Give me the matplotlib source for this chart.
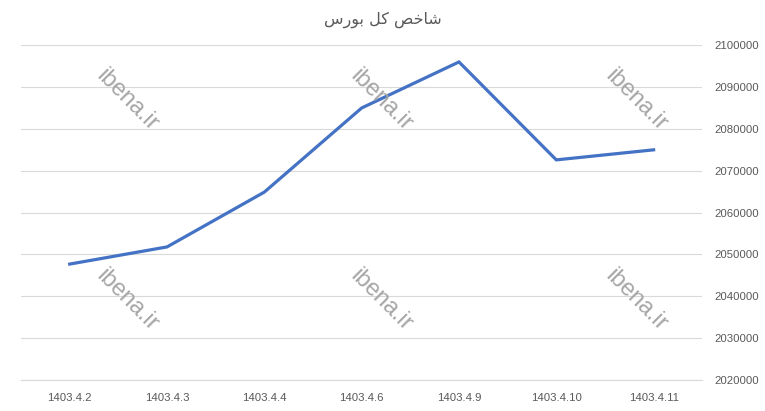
import matplotlib
matplotlib.use("Agg")
import matplotlib.pyplot as plt

categories = ["1403.4.2", "1403.4.3", "1403.4.4", "1403.4.6", "1403.4.9", "1403.4.10", "1403.4.11"]
values = [2047700, 2051800, 2064900, 2085000, 2096000, 2072600, 2075000]
yticks = [2020000, 2030000, 2040000, 2050000, 2060000, 2070000, 2080000, 2090000, 2100000]
# "شاخص کل بورس" shaped into presentation forms, visual order
title_text = "\uFEB1\uFEAD\uFEEE\uFE91 \uFEDE\uFB90 \uFEBA\uFEA7\uFE8E\uFEB7"
watermark = "ibena.ir"

fig = plt.figure(figsize=(7.65, 4.11), dpi=100)
ax = fig.add_axes([0.0275, 0.0754, 0.918 - 0.0275, 0.890 - 0.0754])

x = list(range(len(categories)))
ax.plot(x, values, color="#4472C4", linewidth=2.3, zorder=3, solid_joinstyle="miter")

ax.set_xlim(-0.5, len(categories) - 0.5)
ax.set_ylim(2020000, 2100000)
ax.set_yticks(yticks)
ax.set_yticklabels([str(v) for v in yticks])
ax.set_xticks(x)
ax.set_xticklabels(categories)
ax.yaxis.tick_right()
ax.tick_params(axis="both", length=0, labelsize=8.2, labelcolor="#595959",
               labelfontfamily="Liberation Sans")
ax.tick_params(axis="y", pad=9)
ax.tick_params(axis="x", pad=9)
ax.grid(axis="y", color="#d9d9d9", linewidth=0.8, zorder=0)
for s in ["top", "left", "right"]:
    ax.spines[s].set_visible(False)
ax.spines["bottom"].set_color("#d9d9d9")
ax.spines["bottom"].set_linewidth(0.8)
ax.set_axisbelow(True)

fig.text(0.5, 0.951, title_text, ha="center", va="center", fontsize=11.5,
         color="#595959", family=["DejaVu Sans"])

for (px, py) in [(127, 100), (381, 100), (636, 100), (127, 300), (381, 300), (636, 300)]:
    fig.text(px / 765, 1 - py / 411, watermark, ha="center", va="center",
             rotation=-45, fontsize=17, color="#a6a6a6",
             family=["Liberation Sans"], zorder=1)

fig.savefig("out.png", dpi=100)
